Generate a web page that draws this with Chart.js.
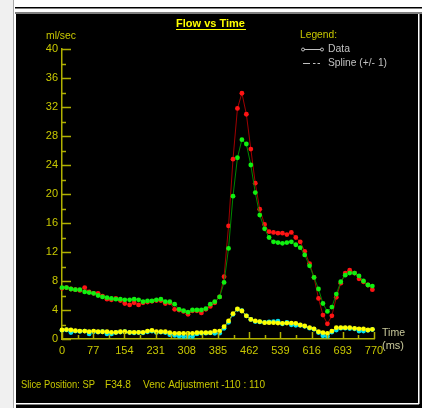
<!DOCTYPE html>
<html>
<head>
<meta charset="utf-8">
<script src="https://cdn.jsdelivr.net/npm/chart.js@4.4.0/dist/chart.umd.min.js"></script>
<style>body{margin:0;background:#000;overflow:hidden}</style>
</head>
<body>
<canvas id="myChart" width="422" height="408"></canvas>
<script>
// time of each frame (ms)
const times = [0, 11, 22, 33, 44, 56, 67, 78, 89, 100, 111, 122, 133, 144, 155, 167, 178, 189, 200, 211,
  222, 233, 244, 255, 266, 278, 289, 300, 311, 322, 333, 344, 355, 366, 377, 389, 400, 411, 422, 433,
  444, 455, 466, 477, 488, 500, 511, 522, 533, 544, 555, 566, 577, 588, 599, 611, 622, 633, 644, 655,
  666, 677, 688, 699, 710, 722, 733, 744, 755, 766];
// flow, ml/sec
const flowRed = [7.0, 7.1, 6.9, 6.8, 6.7, 7.1, 6.5, 6.3, 6.3, 5.9, 5.5, 5.4, 5.6, 5.3, 4.9, 4.7, 5.0, 4.7, 5.0, 5.1,
  5.2, 5.3, 5.3, 4.9, 5.0, 4.1, 4.0, 3.8, 3.4, 3.9, 3.9, 3.6, 4.1, 4.5, 5.0, 5.8, 8.6, 15.6, 24.8, 31.8,
  33.9, 31.0, 26.2, 21.5, 17.9, 15.8, 14.8, 14.7, 14.6, 14.6, 14.4, 14.7, 14.0, 13.4, 12.1, 10.4, 8.5, 5.6, 3.3, 2.1,
  3.2, 5.75, 7.7, 9.1, 9.5, 9.1, 8.3, 7.9, 7.45, 6.8];
const flowGreen = [7.1, 7.1, 6.9, 6.8, 6.8, 6.5, 6.4, 6.3, 6.0, 5.8, 5.7, 5.6, 5.5, 5.5, 5.4, 5.4, 5.5, 5.4, 5.15, 5.25,
  5.25, 5.4, 5.5, 5.15, 5.15, 4.8, 4.1, 3.9, 3.7, 4.0, 4.0, 4.0, 4.2, 4.8, 5.15, 5.8, 7.8, 12.5, 19.7, 25.0,
  27.5, 26.9, 24.0, 20.2, 17.1, 15.2, 14.0, 13.4, 13.3, 13.2, 13.3, 13.4, 13.0, 12.6, 11.6, 10.1, 8.5, 6.9, 4.9, 3.8,
  4.4, 6.2, 7.9, 8.8, 9.1, 9.1, 8.7, 8.0, 7.45, 7.3];
const flowCyan = [1.2, 1.25, 0.9, 1.1, 1.05, 1.1, 0.7, 1.0, 0.95, 1.0, 0.7, 0.7, 0.9, 0.95, 1.0, 0.9, 0.85, 0.9, 0.85, 1.0,
  1.1, 0.9, 0.95, 0.9, 0.6, 0.5, 0.4, 0.35, 0.32, 0.35, 0.7, 0.8, 0.8, 0.85, 0.78, 0.8, 1.47, 2.3, 3.4, 4.1,
  3.9, 3.2, 2.7, 2.4, 2.35, 2.3, 2.35, 2.4, 2.45, 2.1, 2.3, 1.95, 1.9, 1.9, 1.75, 1.5, 1.35, 0.9, 0.45, 0.35,
  0.95, 1.24, 1.5, 1.5, 1.45, 1.4, 1.1, 1.1, 1.2, 1.3];
const flowYellow = [1.24, 1.3, 1.24, 1.15, 1.1, 1.1, 1.0, 1.1, 1.0, 1.0, 1.0, 0.92, 0.92, 1.0, 1.0, 0.92, 0.92, 0.92, 0.92, 1.1,
  1.2, 1.0, 1.0, 1.0, 0.87, 0.78, 0.78, 0.78, 0.78, 0.78, 0.87, 0.87, 0.87, 0.87, 1.1, 1.1, 1.7, 2.5, 3.5, 4.14,
  3.86, 3.2, 2.7, 2.5, 2.4, 2.25, 2.25, 2.25, 2.2, 2.16, 2.2, 2.2, 2.16, 1.93, 1.79, 1.56, 1.4, 1.0, 0.87, 0.78,
  1.1, 1.56, 1.56, 1.56, 1.56, 1.47, 1.4, 1.4, 1.24, 1.33];
const xTicks = [0, 77, 154, 231, 308, 385, 462, 539, 616, 693, 770];
const yTicks = [0, 4, 8, 12, 16, 20, 24, 28, 32, 36, 40];

const labelColor = '#c8c800';
const axisColor = '#b0b000';
const font = 'Liberation Sans, Arial, sans-serif';

const toPoints = arr => arr.map((v, i) => ({x: times[i], y: v}));

const frame = {
  id: 'frame',
  beforeDraw(chart) {
    const c = chart.ctx;
    c.save();
    c.fillStyle = '#000';
    c.fillRect(0, 0, 422, 408);
    c.fillStyle = '#f0f0f0';
    c.fillRect(0, 0, 13, 408);
    c.fillStyle = '#a8a8a8';
    c.fillRect(13, 0, 1, 408);
    c.fillStyle = '#fff';
    c.fillRect(14, 0, 2, 408);
    c.fillRect(14, 0, 408, 12);
    c.fillStyle = '#000';
    c.fillRect(15, 7, 407, 1.5);
    c.fillStyle = '#808080';
    c.fillRect(15, 12, 407, 2);
    c.fillStyle = '#fff';
    c.fillRect(16, 403, 403, 1.5);
    c.fillRect(418, 14, 1.5, 390);
    c.restore();
  },
  afterDraw(chart) {
    const c = chart.ctx;
    const xs = chart.scales.x, ys = chart.scales.y;
    const area = chart.chartArea;
    c.save();
    // inner tick marks
    c.strokeStyle = axisColor;
    c.lineWidth = 1.5;
    c.beginPath();
    for (let v = 0; v <= 40; v += 2) {
      const py = Math.round(ys.getPixelForValue(v)) + 0.5;
      const len = v % 4 === 0 ? 9 : 4;
      c.moveTo(area.left, py);
      c.lineTo(area.left + len, py);
    }
    for (let k = 0; k <= 20; k++) {
      const px = Math.round(xs.getPixelForValue(k * 38.5)) + 0.5;
      const len = k % 2 === 0 ? 7 : 4;
      c.moveTo(px, area.bottom);
      c.lineTo(px, area.bottom - len);
    }
    c.stroke();

    c.textBaseline = 'middle';
    c.textAlign = 'left';
    // title
    c.fillStyle = '#ffff00';
    c.font = 'bold 11px ' + font;
    c.textAlign = 'center';
    c.fillText('Flow vs Time', 210.5, 24, 70);
    c.fillRect(176, 29, 70, 1);
    c.textAlign = 'left';
    // axis captions
    c.font = '11px ' + font;
    c.fillStyle = labelColor;
    c.fillText('ml/sec', 46, 36, 30);
    c.fillText('Legend:', 300, 35, 37);
    c.fillStyle = '#c8c89a';
    c.fillText('Time', 382, 333, 23);
    c.fillText('(ms)', 382, 346, 22);
    // legend entries
    c.fillStyle = '#c0c0c0';
    c.fillText('Data', 328, 49, 22);
    c.fillText('Spline (+/- 1)', 328, 63, 59);
    c.strokeStyle = '#c0c0c0';
    c.lineWidth = 1;
    c.beginPath();
    c.moveTo(304, 49.5);
    c.lineTo(321, 49.5);
    c.stroke();
    c.beginPath();
    c.arc(303, 49.5, 1.5, 0, Math.PI * 2);
    c.stroke();
    c.beginPath();
    c.arc(322, 49.5, 1.5, 0, Math.PI * 2);
    c.stroke();
    c.beginPath();
    c.moveTo(303, 63.5); c.lineTo(310, 63.5);
    c.moveTo(313, 63.5); c.lineTo(315.5, 63.5);
    c.moveTo(317.5, 63.5); c.lineTo(320, 63.5);
    c.stroke();
    // footer
    c.fillStyle = labelColor;
    c.fillText('Slice Position: SP', 21, 385, 74);
    c.fillText('F34.8', 105, 385, 26);
    c.fillText('Venc Adjustment -110 : 110', 143, 385, 122);
    c.restore();
  }
};

const ctx = document.getElementById('myChart').getContext('2d');
const data = {
  datasets: [
    {
      label: 'Flow 2',
      data: toPoints(flowYellow),
      borderColor: '#c8c800',
      pointBackgroundColor: '#ffff00',
      order: 0
    },
    {
      label: 'Flow 2 data',
      data: toPoints(flowCyan),
      borderColor: '#0090b0',
      pointBackgroundColor: '#00e0f0',
      order: 1
    },
    {
      label: 'Flow 1',
      data: toPoints(flowGreen),
      borderColor: '#008800',
      pointBackgroundColor: '#10f010',
      order: 2
    },
    {
      label: 'Flow 1 data',
      data: toPoints(flowRed),
      borderColor: '#a00000',
      pointBackgroundColor: '#ff1414',
      order: 3
    }
  ]
};

const config = {
  type: 'line',
  data: data,
  options: {
    responsive: false,
    animation: false,
    devicePixelRatio: 1,
    layout: { padding: { top: 49, right: 48, left: 0, bottom: 0 } },
    elements: {
      line: { borderWidth: 1, tension: 0 },
      point: { radius: 2.4, borderWidth: 0, hoverRadius: 2.4 }
    },
    datasets: { line: { clip: 6 } },
    plugins: {
      legend: { display: false },
      tooltip: { enabled: false }
    },
    scales: {
      x: {
        type: 'linear',
        min: 0,
        max: 770,
        afterBuildTicks: s => { s.ticks = xTicks.map(v => ({value: v})); },
        afterFit: s => { s.height = 69; },
        ticks: { autoSkip: false, maxRotation: 0, color: labelColor, padding: 5, font: { family: font, size: 11 } },
        grid: { display: false, drawTicks: false },
        border: { display: true, color: axisColor, width: 1.5 }
      },
      y: {
        type: 'linear',
        min: 0,
        max: 40,
        afterBuildTicks: s => { s.ticks = yTicks.map(v => ({value: v})); },
        afterFit: s => { s.width = 62; },
        ticks: { color: labelColor, padding: 4, font: { family: font, size: 11 } },
        grid: { display: false, drawTicks: false },
        border: { display: true, color: axisColor, width: 1.5 }
      }
    }
  },
  plugins: [frame]
};

const flowChart = new Chart(ctx, config);
</script>
</body>
</html>
